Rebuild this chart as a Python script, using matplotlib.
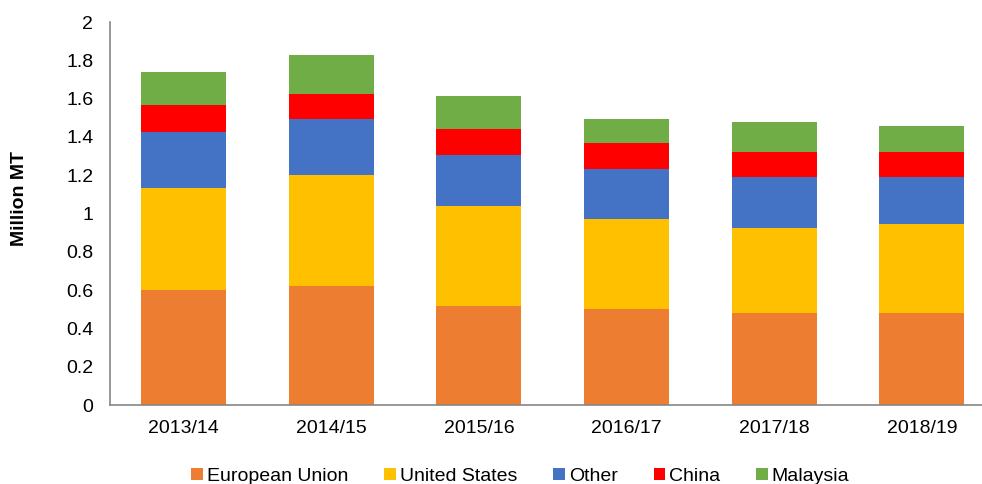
import numpy as np
import matplotlib.pyplot as plt

plt.rcParams['font.family'] = ['Liberation Sans', 'DejaVu Sans']

years = ['2013/14', '2014/15', '2015/16', '2016/17', '2017/18', '2018/19']
eu = [0.600, 0.623, 0.519, 0.501, 0.479, 0.479]
us = [0.532, 0.576, 0.522, 0.470, 0.445, 0.464]
other = [0.295, 0.293, 0.263, 0.263, 0.267, 0.248]
china = [0.140, 0.134, 0.136, 0.134, 0.129, 0.129]
malaysia = [0.172, 0.202, 0.174, 0.124, 0.156, 0.139]

series = [('European Union', eu, '#ED7D31'),
          ('United States', us, '#FFC000'),
          ('Other', other, '#4472C4'),
          ('China', china, '#FF0000'),
          ('Malaysia', malaysia, '#70AD47')]

fig = plt.figure(figsize=(9.82, 4.84), dpi=100)
ax = fig.add_axes([0.112, 0.1632, 0.9018, 0.7913])

x = np.arange(len(years))
bottom = np.zeros(len(years))
for name, vals, col in series:
    ax.bar(x, vals, 0.576, bottom=bottom, color=col, label=name)
    bottom += np.array(vals)

ax.set_xlim(-0.5, 5.5)
ax.set_ylim(0, 2)
ax.set_yticks(np.arange(0, 2.01, 0.2))
ax.set_yticklabels(['0', '0.2', '0.4', '0.6', '0.8', '1', '1.2', '1.4', '1.6', '1.8', '2'])
ax.set_xticks(x)
ax.set_xticklabels(years)
ax.tick_params(axis='y', length=0, pad=12, labelsize=14)
ax.tick_params(axis='x', length=0, pad=11, labelsize=14)
for s in ['top', 'right']:
    ax.spines[s].set_visible(False)
for s in ['left', 'bottom']:
    ax.spines[s].set_color('#868686')
    ax.spines[s].set_linewidth(1.2)

ax.set_ylabel('Million MT', fontsize=14, fontweight='bold')
ax.yaxis.set_label_coords(-0.0925, 0.54)

fig.legend(loc='lower center', bbox_to_anchor=(0.53, -0.038), ncol=5, frameon=False,
           fontsize=14, handlelength=0.6, handleheight=0.6, handletextpad=0.2,
           columnspacing=1.85)

fig.savefig('out.png', dpi=100)
